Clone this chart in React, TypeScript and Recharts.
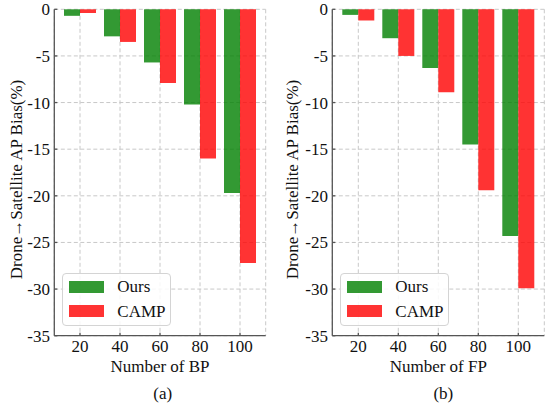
import React from "react";
import { BarChart, Bar, XAxis, YAxis, CartesianGrid, Legend } from "recharts";

const counts = [20, 40, 60, 80, 100];
const bpOurs = [-0.7, -2.9, -5.7, -10.2, -19.7];
const bpCamp = [-0.4, -3.5, -7.9, -16.0, -27.2];
const fpOurs = [-0.6, -3.1, -6.3, -14.5, -24.3];
const fpCamp = [-1.2, -5.0, -8.9, -19.4, -29.9];
const yTicks = [0, -5, -10, -15, -20, -25, -30, -35];
const seriesNames = ["Ours", "CAMP"];

const font = "Liberation Serif";
const frame = "#555";

const LegendBox = ({ payload }: any) => {
  const items = [...(payload || [])].sort(
    (a: any, b: any) => seriesNames.indexOf(a.value) - seriesNames.indexOf(b.value)
  );
  return (
    <div
      style={{
        position: "relative",
        width: 109,
        height: 53,
        boxSizing: "border-box",
        border: "1px solid #d4d4d4",
        borderRadius: 4,
        background: "rgba(255,255,255,0.85)",
        fontFamily: font,
        fontSize: 17,
        color: "#111",
      }}
    >
      {items.map((p: any, i: number) => (
        <div
          key={p.value}
          style={{
            position: "absolute",
            left: 6,
            top: 6.5 + i * 24.6,
            height: 12,
            display: "flex",
            alignItems: "center",
            whiteSpace: "nowrap",
          }}
        >
          <span style={{ display: "inline-block", width: 35, height: 12, background: p.color, opacity: 0.8 }} />
          <span style={{ marginLeft: 13, lineHeight: 1 }}>{p.value}</span>
        </div>
      ))}
    </div>
  );
};

const YLabel = ({ viewBox, cx }: any) => {
  const cy = viewBox.y + viewBox.height / 2 + 7;
  return (
    <text
      x={cx}
      y={cy}
      transform={`rotate(-90, ${cx}, ${cy})`}
      textAnchor="middle"
      dominantBaseline="central"
      style={{ fontFamily: font, fontSize: 17 }}
      fill="#111"
    >
      Drone→Satellite AP Bias(%)
    </text>
  );
};

type PanelProps = {
  ours: number[];
  camp: number[];
  xLabel: string;
  caption: string;
  left: number;
  axisWidth: number;
  right: number;
  pad: number;
  labelX: number;
  captionX: number;
};

const tickStyle = { fontSize: 17, fill: "#111", style: { fontFamily: font } };

const Panel = ({ ours, camp, xLabel, caption, left, axisWidth, right, pad, labelX, captionX }: PanelProps) => {
  const data = counts.map((n, i) => ({ n, ours: ours[i], camp: camp[i] }));
  return (
    <div style={{ position: "absolute", left, top: 0, width: 275, height: 407, fontFamily: font }}>
      <BarChart
        width={275}
        height={407}
        data={data}
        margin={{ top: 9.3, right, bottom: 21.3, left: 0 }}
        barGap={0}
        barSize={16}
        style={{ fontFamily: font }}
      >
        <CartesianGrid stroke="#c8c8c8" strokeDasharray="4 2.5" />
        <XAxis
          dataKey="n"
          height={50}
          padding={{ left: pad, right: pad }}
          stroke={frame}
          strokeWidth={1.3}
          tickSize={-3}
          tickMargin={7}
          tick={tickStyle}
          label={{ value: xLabel, position: "insideBottom", offset: 14, fontSize: 17, fill: "#111", style: { fontFamily: font } }}
        />
        <XAxis xAxisId="top" dataKey="n" orientation="top" height={0} tick={false} tickLine={false} stroke={frame} strokeWidth={1.3} />
        <YAxis
          type="number"
          domain={[-35, 0]}
          ticks={yTicks}
          width={axisWidth}
          stroke={frame}
          strokeWidth={1.3}
          tickSize={-3}
          tickMargin={7.3}
          interval={0}
          tick={tickStyle}
          label={<YLabel cx={labelX} />}
        />
        <YAxis yAxisId="right" orientation="right" type="number" domain={[-35, 0]} width={0} tick={false} tickLine={false} stroke={frame} strokeWidth={1.3} />
        <Legend
          layout="horizontal"
          verticalAlign="middle"
          align="center"
          content={<LegendBox />}
          wrapperStyle={{ left: axisWidth + 8, top: 273.3, width: "auto", height: "auto" }}
        />
        <Bar dataKey="ours" name="Ours" fill="#008000" fillOpacity={0.8} isAnimationActive={false} />
        <Bar dataKey="camp" name="CAMP" fill="#ff0000" fillOpacity={0.8} isAnimationActive={false} />
      </BarChart>
      <div
        style={{
          position: "absolute",
          left: captionX - 20,
          top: 384.8,
          width: 40,
          textAlign: "center",
          fontFamily: font,
          fontSize: 17,
          lineHeight: "17px",
          color: "#111",
        }}
      >
        {caption}
      </div>
    </div>
  );
};

export default function App() {
  return (
    <div style={{ position: "absolute", left: 0, top: 0, width: 550, height: 407, background: "#fff", fontFamily: font }}>
      <Panel ours={bpOurs} camp={bpCamp} xLabel="Number of BP" caption="(a)" left={0} axisWidth={54.3} right={9.3} pad={5.7} labelX={16.5} captionX={162.7} />
      <Panel ours={fpOurs} camp={fpCamp} xLabel="Number of FP" caption="(b)" left={275} axisWidth={57.3} right={5.7} pad={6} labelX={17.5} captionX={168.3} />
    </div>
  );
}
